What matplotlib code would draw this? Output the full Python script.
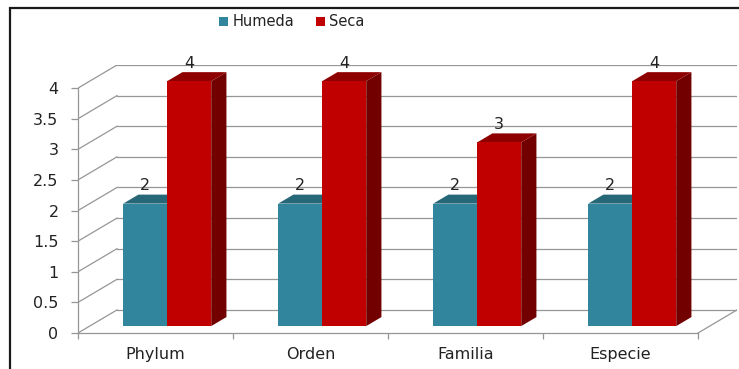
import numpy as np
import matplotlib.pyplot as plt
from matplotlib.patches import Polygon, Rectangle, Patch

categories = ["Phylum", "Orden", "Familia", "Especie"]
series_names = ["Humeda", "Seca"]
humeda = [2, 2, 2, 2]
seca = [4, 4, 3, 4]
y_ticks = [0, 0.5, 1, 1.5, 2, 2.5, 3, 3.5, 4]

# front / top / side colours per series
front_colors = ["#31859C", "#C00000"]
top_colors = ["#276878", "#8E0000"]
side_colors = ["#1F5563", "#730000"]
grid_color = "#969696"
text_color = "#222222"

# oblique depth of the 3D box (data units) and the slab the bars occupy
DX = 39 / 155
DY = 23 / 61
Z0, Z1 = 0.30, 0.69
W = 0.284

plt.rcParams["font.family"] = ["DejaVu Sans"]

fig = plt.figure(figsize=(7.39, 3.69), dpi=100)
ax = fig.add_axes([78 / 739, 36 / 369, 659 / 739, 268 / 369])

n = len(categories)
ymax = y_ticks[-1]
ax.set_xlim(0, n + DX)
ax.set_ylim(0, ymax + DY)

# side wall, back wall and floor
for v in y_ticks:
    ax.plot([0, DX], [v, v + DY], color=grid_color, lw=0.9, zorder=1)
    ax.plot([DX, n + DX], [v + DY, v + DY], color=grid_color, lw=0.9, zorder=1)
ax.plot([n, n + DX], [0, DY], color=grid_color, lw=0.9, zorder=1)

# bars
z = 2
for i in range(n):
    for j, vals in enumerate([humeda, seca]):
        v = vals[i]
        x0 = i + 0.5 - W + j * W
        x1 = x0 + W
        front = [(x0 + Z0 * DX, Z0 * DY), (x1 + Z0 * DX, Z0 * DY),
                 (x1 + Z0 * DX, v + Z0 * DY), (x0 + Z0 * DX, v + Z0 * DY)]
        top = [(x0 + Z0 * DX, v + Z0 * DY), (x1 + Z0 * DX, v + Z0 * DY),
               (x1 + Z1 * DX, v + Z1 * DY), (x0 + Z1 * DX, v + Z1 * DY)]
        side = [(x1 + Z0 * DX, Z0 * DY), (x1 + Z1 * DX, Z1 * DY),
                (x1 + Z1 * DX, v + Z1 * DY), (x1 + Z0 * DX, v + Z0 * DY)]
        ax.add_patch(Polygon(side, closed=True, facecolor=side_colors[j],
                             edgecolor="none", zorder=z))
        ax.add_patch(Polygon(top, closed=True, facecolor=top_colors[j],
                             edgecolor="none", zorder=z))
        ax.add_patch(Polygon(front, closed=True, facecolor=front_colors[j],
                             edgecolor="none", zorder=z))
        ax.annotate(f"{v:g}", ((x0 + x1) / 2 + Z0 * DX, v + Z1 * DY),
                    xytext=(0, 1), textcoords="offset points",
                    ha="center", va="bottom", fontsize=11.5, color=text_color,
                    zorder=10)
        z += 1

# axes
for s in ["top", "right"]:
    ax.spines[s].set_visible(False)
ax.spines["left"].set_bounds(0, ymax)
ax.spines["bottom"].set_bounds(0, n)
for s in ["left", "bottom"]:
    ax.spines[s].set_color(grid_color)
    ax.spines[s].set_linewidth(0.9)
ax.patch.set_visible(False)

ax.set_yticks(y_ticks)
ax.set_yticklabels([f"{t:g}" for t in y_ticks])
ax.tick_params(axis="y", length=5, width=0.9, color=grid_color, pad=9,
               labelsize=11.5, labelcolor=text_color)

ax.set_xticks(range(n + 1))
ax.set_xticklabels([])
ax.set_xticks(np.arange(n) + 0.5, minor=True)
ax.set_xticklabels(categories, minor=True)
ax.tick_params(axis="x", which="major", length=4, width=0.9, color=grid_color)
ax.tick_params(axis="x", which="minor", length=0, pad=10, labelsize=11.5,
               labelcolor=text_color)

handles = [Patch(facecolor=front_colors[k], label=series_names[k]) for k in range(2)]
fig.legend(handles=handles, loc="center", bbox_to_anchor=(292 / 739, 1 - 22 / 369),
           ncol=2, frameon=False, fontsize=10.5,
           handlelength=0.6, handleheight=0.6,
           handletextpad=0.3, columnspacing=1.5, labelcolor=text_color)

# chart frame
fig.add_artist(Rectangle((9.5 / 739, -0.1), 1.2, 1.1 - 8.5 / 369,
                         transform=fig.transFigure, fill=False,
                         edgecolor="#1a1a1a", lw=1.6))

fig.savefig("out.png", dpi=100)
